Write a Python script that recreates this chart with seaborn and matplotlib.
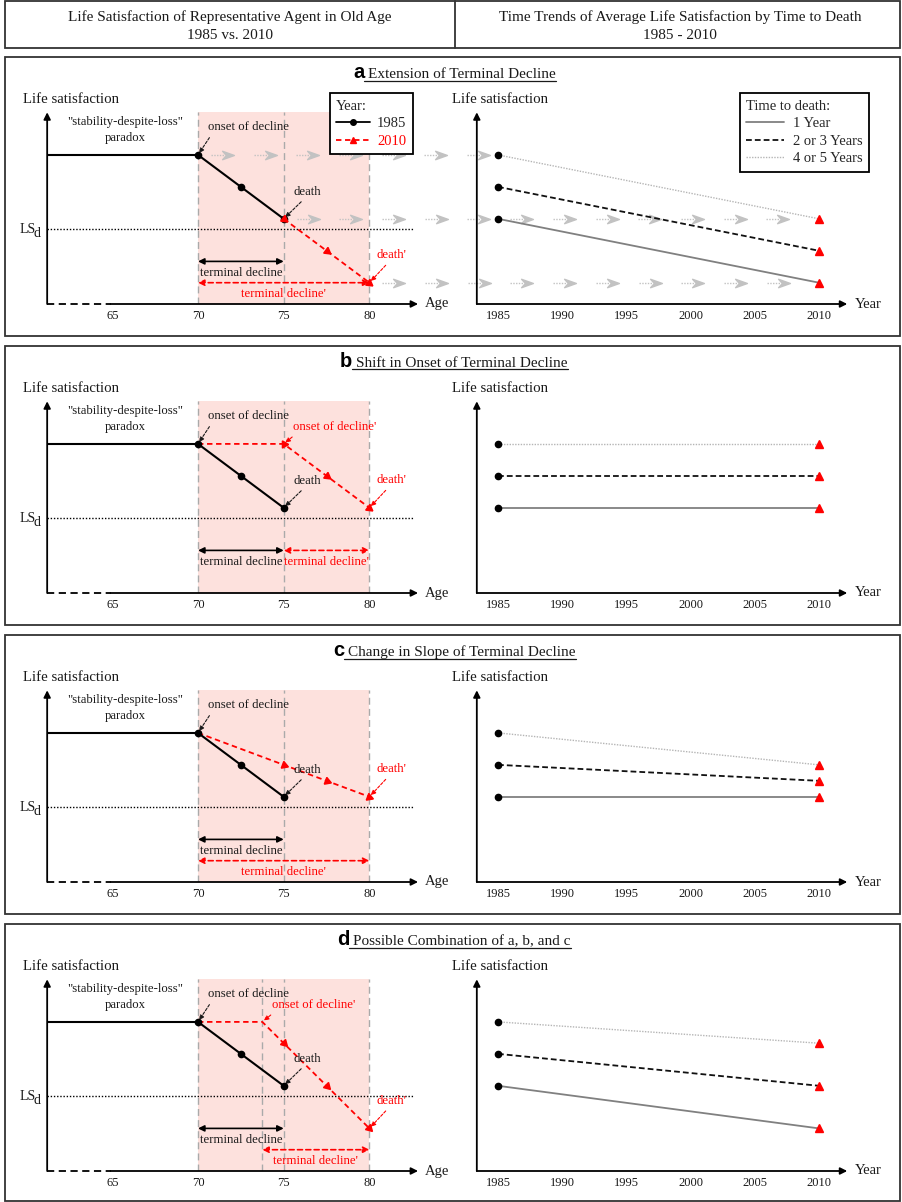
"""
Schematic: terminal decline of life satisfaction, 1985 vs. 2010.
"""
import math
import numpy as np
import pandas as pd
import matplotlib
matplotlib.use("Agg")
import matplotlib.pyplot as plt
from matplotlib.lines import Line2D
from matplotlib.patches import Rectangle
from matplotlib.path import Path
import seaborn as sns

# ---------------- data ----------------
HEADER_LEFT = "Life Satisfaction of Representative Agent in Old Age\n1985 vs. 2010"
HEADER_RIGHT = "Time Trends of Average Life Satisfaction by Time to Death\n1985 - 2010"

PANEL_LETTERS = ["a", "b", "c", "d"]
PANEL_TITLES = ["Extension of Terminal Decline",
                "Shift in Onset of Terminal Decline",
                "Change in Slope of Terminal Decline",
                "Possible Combination of a, b, and c"]

AGE_TICKS = [65, 70, 75, 80]
YEAR_TICKS = [1985, 1990, 1995, 2000, 2005, 2010]

# representative agent 1985 (same in every panel)
AGES_1985 = [70, 72.5, 75]
LS_1985 = [7.0, 5.5, 4.0]
LS_D = 3.5

# representative agent 2010, one path per panel
AGES_2010 = [[75, 77.5, 80],
             [70, 75, 77.5, 80],
             [70, 75, 77.5, 80],
             [70, 73.75, 75, 77.5, 80]]
LS_2010 = [[4.0, 2.5, 1.0],
           [7.0, 7.0, 5.5, 4.0],
           [7.0, 5.5, 4.75, 4.0],
           [7.0, 7.0, 6.0, 4.0, 2.0]]
ONSET_2010 = [70, 75, 70, 73.75]
DEATH_2010 = [80, 80, 80, 80]

# average life satisfaction by time to death
TTD_GROUPS = ["1 Year", "2 or 3 Years", "4 or 5 Years"]
TTD_LS_1985 = [4.0, 5.5, 7.0]
TTD_LS_2010 = [[1.0, 2.5, 4.0],
               [4.0, 5.5, 7.0],
               [4.0, 4.75, 5.5],
               [2.0, 4.0, 6.0]]

# ---------------- layout ----------------
W, H = 902, 1202
PANEL_TOP = [57, 346, 635, 924]
PANEL_BOTTOM = [336, 625, 914, 1201]
AXIS_OFFSET = 247
Y_PX = 21.3
AGE_PX, AGE_REF, AGE_REF_PX = 17.14, 70, 198
YEAR_PX, YEAR_REF, YEAR_REF_PX = 12.84, 1985, 498
AGE_LIM = (61.2, 83.5)
YEAR_LIM = (1983.35, 2013.5)
Y_LIM = (0, 9.5)
ARROW_TOP = 9.0

PINK = "#fde1dd"
RED = "#ff0000"
INK = "#1a1a1a"
GHOST = "#c2c2c2"
TTD_COLORS = {"1 Year": "#808080", "2 or 3 Years": "#111111", "4 or 5 Years": "#b5b5b5"}
TTD_DASHES = {"1 Year": "", "2 or 3 Years": (3.2, 1.7), "4 or 5 Years": (1, 1)}
TTD_LW = {"1 Year": 1.3, "2 or 3 Years": 1.3, "4 or 5 Years": 1.0}

sns.set_style("white")
plt.rcParams["font.family"] = ["Liberation Serif", "DejaVu Serif"]
plt.rcParams["axes.unicode_minus"] = False

fig = plt.figure(figsize=(W / 100, H / 100), dpi=100)
fig.patch.set_facecolor("white")

CHEVRON = Path([(-0.7, 0.5), (0.7, 0.0), (-0.7, -0.5), (-0.25, 0.0), (-0.7, 0.5)],
               [Path.MOVETO, Path.LINETO, Path.LINETO, Path.LINETO, Path.CLOSEPOLY])


def fx(px):
    return px / W


def fy(py):
    return 1 - py / H


def make_axes(xlim, px_per, ref, ref_px, axis_px, ticks):
    left = ref_px + (xlim[0] - ref) * px_per
    width = (xlim[1] - xlim[0]) * px_per
    height = (Y_LIM[1] - Y_LIM[0]) * Y_PX
    ax = fig.add_axes([fx(left), fy(axis_px), width / W, height / H])
    ax.set_xlim(xlim)
    ax.set_ylim(Y_LIM)
    ax.set_autoscale_on(False)
    ax.set_facecolor("none")
    for s in ax.spines.values():
        s.set_visible(False)
    ax.set_yticks([])
    ax.set_xticks(ticks)
    ax.set_xticklabels([str(t) for t in ticks])
    ax.tick_params(axis="x", length=0, pad=4, labelsize=9, labelcolor=INK)
    return ax


def axis_arrow(ax, xy, xytext, ls="-"):
    ax.annotate("", xy=xy, xytext=xytext, annotation_clip=False,
                arrowprops=dict(arrowstyle="-|>", color="k", lw=1.3, ls=ls,
                                shrinkA=0, shrinkB=0, mutation_scale=10))


def note(ax, text, xy, xytext, color, relpos, ha="left"):
    ax.annotate(text, xy=xy, xytext=xytext, color=color, fontsize=9.2,
                ha=ha, va="center", annotation_clip=False,
                arrowprops=dict(arrowstyle="-|>", color=color, lw=0.8,
                                ls=(0, (2.5, 1.5)), mutation_scale=7,
                                shrinkA=1, shrinkB=1.5, relpos=relpos))


def span_arrow(ax, x0, x1, y, color, ls="-"):
    ax.annotate("", xy=(x1, y), xytext=(x0, y), annotation_clip=False,
                arrowprops=dict(arrowstyle="<|-|>", color=color, lw=1.2, ls=ls,
                                shrinkA=0, shrinkB=0, mutation_scale=9))


def draw_left(i, ax):
    onset, death = ONSET_2010[i], DEATH_2010[i]
    start, end = AGES_1985[0], AGES_1985[-1]

    # terminal decline window
    ax.fill_between([start, death], 0, ARROW_TOP, color=PINK, lw=0, zorder=0)
    guides = sorted(set([start, end, death, onset]))
    ax.vlines(guides, 0, ARROW_TOP, colors="#aaaaaa", linestyles=(0, (5, 3)), lw=1, zorder=1)

    # axes
    axis_arrow(ax, (AGE_LIM[0], ARROW_TOP), (AGE_LIM[0], 0))
    ax.plot([AGE_LIM[0], 64.9], [0, 0], color="k", lw=1.3, ls=(0, (4, 2.5)), clip_on=False)
    axis_arrow(ax, (82.84, 0), (64.9, 0))
    ax.text(83.24, 0, "Age", fontsize=10.5, va="center", ha="left", color=INK)
    ax.text(59.8, 9.62, "Life satisfaction", fontsize=10.7, va="center", ha="left", color=INK)

    # LS_d threshold
    ax.hlines(LS_D, AGE_LIM[0], 82.55, colors="k", linestyles=(0, (1, 1.3)), lw=1, zorder=2)
    ax.text(60.55, LS_D + 0.02, "LS", fontsize=10, ha="right", va="center", color=INK)
    ax.text(60.43, LS_D - 0.2, "d", fontsize=10, ha="left", va="center", color=INK)

    ax.text(65.74, 8.17, '"stability-despite-loss"\nparadox', fontsize=9.2,
            ha="center", va="center", linespacing=1.4, color=INK)

    # 2010 path
    xs, ys = AGES_2010[i], LS_2010[i]
    sns.lineplot(x=xs, y=ys, color=RED, lw=1.3, linestyle=(0, (3, 2)),
                 sort=False, ax=ax, zorder=3)

    # 1985 path
    ax.plot([AGE_LIM[0], start], [LS_1985[0], LS_1985[0]], color="k", lw=1.5, zorder=3)
    sns.lineplot(x=AGES_1985, y=LS_1985, color="k", lw=1.5, sort=False, ax=ax, zorder=4)
    ax.plot(AGES_1985, LS_1985, ls="none", marker="o", ms=4.5, color="k", zorder=5)

    # 2010 markers, oriented along the path
    for j, (x, y) in enumerate(zip(xs, ys)):
        if x < end:
            continue
        k0, k1 = (j - 1, j) if j > 0 else (0, 1)
        ang = math.degrees(math.atan2((ys[k1] - ys[k0]) * Y_PX,
                                      (xs[k1] - xs[k0]) * AGE_PX)) - 90
        ax.plot([x], [y], ls="none", marker=(3, 0, ang), ms=6, color=RED, zorder=6)

    # notes
    note(ax, "onset of decline", (start, LS_1985[0]), (70.6, 8.3), INK, (0.05, 0))
    note(ax, "death", (end, LS_1985[-1]), (75.55, 5.28), INK, (0.45, 0))
    death_ls = ys[xs.index(death)]
    note(ax, "death'", (death, death_ls), (80.4, death_ls + 1.3), RED, (0.45, 0))
    if onset != start:
        note(ax, "onset of decline'", (onset, LS_1985[0]), (onset + 0.55, 7.8), RED, (0.05, 0))

    # terminal decline spans
    span_arrow(ax, start, end, 2.0, "k")
    ax.text((start + end) / 2, 1.47, "terminal decline", fontsize=9.2,
            ha="center", va="center", color=INK)
    if onset == end:
        span_arrow(ax, onset, death, 2.0, RED, ls=(0, (3, 2)))
        ax.text((onset + death) / 2, 1.47, "terminal decline'", fontsize=9.2,
                ha="center", va="center", color=RED)
    else:
        span_arrow(ax, onset, death, 1.0, RED, ls=(0, (3, 2)))
        ax.text((onset + death) / 2, 0.45, "terminal decline'", fontsize=9.2,
                ha="center", va="center", color=RED)


def draw_right(i, ax):
    axis_arrow(ax, (YEAR_LIM[0], ARROW_TOP), (YEAR_LIM[0], 0))
    axis_arrow(ax, (2012.2, 0), (YEAR_LIM[0], 0))
    ax.text(2012.8, 0, "Year", fontsize=10.5, va="center", ha="left", color=INK)
    ax.text(1981.4, 9.62, "Life satisfaction", fontsize=10.7, va="center", ha="left", color=INK)

    df = pd.DataFrame({
        "year": [1985] * 3 + [2010] * 3,
        "ls": TTD_LS_1985 + TTD_LS_2010[i],
        "group": TTD_GROUPS * 2,
    })
    for g in TTD_GROUPS:
        sub = df[df["group"] == g]
        sns.lineplot(data=sub, x="year", y="ls", color=TTD_COLORS[g], lw=TTD_LW[g],
                     dashes=False, ax=ax, legend=False, zorder=3,
                     linestyle="-" if TTD_DASHES[g] == "" else (0, TTD_DASHES[g]))
    ax.plot([1985] * 3, TTD_LS_1985, ls="none", marker="o", ms=4.5, color="k", zorder=5)
    ax.plot([2010] * 3, TTD_LS_2010[i], ls="none", marker="^", ms=6, color=RED, zorder=5)
    ax.set_xlabel("")
    ax.set_ylabel("")


def gray_row(ax_l, ax_r, start_age, ls, end_year, gap_px):
    x0 = ax_l.transData.transform((start_age, ls))[0] + 13
    x1 = ax_r.transData.transform((end_year, ls))[0] - gap_px
    inv = ax_l.transData.inverted()
    xs = x0
    while xs + 22 <= x1 + 0.5:
        a0 = inv.transform((xs, 0))[0]
        a1 = inv.transform((xs + 13, 0))[0]
        ac = inv.transform((xs + 17, 0))[0]
        ax_l.plot([a0, a1], [ls, ls], color=GHOST, lw=1, ls=(0, (1, 1)), clip_on=False, zorder=2)
        ax_l.plot([ac], [ls], ls="none", marker=CHEVRON, ms=8.5, color=GHOST,
                  clip_on=False, zorder=2)
        xs += 42.7


# ---------------- frames and headers ----------------
fig.add_artist(Rectangle((fx(5), fy(48)), 895 / W, 47 / H, transform=fig.transFigure,
                         fill=False, lw=1.3, ec="#333333"))
fig.add_artist(Line2D([fx(455), fx(455)], [fy(48), fy(1)], transform=fig.transFigure,
                      lw=1.3, color="#333333"))
fig.text(fx(230), fy(26), HEADER_LEFT, ha="center", va="center", fontsize=11,
         linespacing=1.55, color=INK)
fig.text(fx(680), fy(26), HEADER_RIGHT, ha="center", va="center", fontsize=11,
         linespacing=1.55, color=INK)

titles = []
for i in range(4):
    top, bottom = PANEL_TOP[i], PANEL_BOTTOM[i]
    fig.add_artist(Rectangle((fx(5), fy(bottom)), 895 / W, (bottom - top) / H,
                             transform=fig.transFigure, fill=False, lw=1.3, ec="#333333"))
    titles.append(fig.text(fx(462), fy(top + 21), PANEL_TITLES[i], ha="center",
                           va="baseline", fontsize=11, color=INK))

    axis_px = top + AXIS_OFFSET
    ax_l = make_axes(AGE_LIM, AGE_PX, AGE_REF, AGE_REF_PX, axis_px, AGE_TICKS)
    ax_r = make_axes(YEAR_LIM, YEAR_PX, YEAR_REF, YEAR_REF_PX, axis_px, YEAR_TICKS)
    draw_left(i, ax_l)
    draw_right(i, ax_r)
    for ax in (ax_l, ax_r):
        ax.set_xlabel("")
        ax.set_ylabel("")
        ax.set_xlim(AGE_LIM if ax is ax_l else YEAR_LIM)
        ax.set_ylim(Y_LIM)

    if i == 0:
        # projection of 1985 levels into the trend chart
        gray_row(ax_l, ax_r, AGES_1985[0], LS_1985[0], 1985, 6)
        gray_row(ax_l, ax_r, AGES_1985[-1], LS_1985[-1], 2010, 28)
        gray_row(ax_l, ax_r, DEATH_2010[0], LS_2010[0][-1], 2010, 28)

        year_handles = [
            Line2D([0], [0], color="k", lw=1.3, marker="o", ms=4),
            Line2D([0], [0], color=RED, lw=1.3, ls=(0, (3, 2)), marker="^", ms=5),
        ]
        leg = ax_l.legend(year_handles, ["1985", "2010"], title="Year:", loc="upper right",
                          bbox_to_anchor=(fx(413), fy(93)), bbox_transform=fig.transFigure,
                          borderaxespad=0, fontsize=10.5, title_fontsize=10.5,
                          alignment="left", fancybox=False, framealpha=1,
                          edgecolor="k", handlelength=2.3, handletextpad=0.5,
                          labelspacing=0.3, borderpad=0.45)
        leg.get_frame().set_linewidth(1.3)
        leg.get_texts()[1].set_color(RED)

        ttd_handles = [Line2D([0], [0], color=TTD_COLORS[g], lw=TTD_LW[g],
                              ls="-" if TTD_DASHES[g] == "" else (0, TTD_DASHES[g]))
                       for g in TTD_GROUPS]
        leg2 = ax_r.legend(ttd_handles, TTD_GROUPS, title="Time to death:", loc="upper right",
                           bbox_to_anchor=(fx(869), fy(93)), bbox_transform=fig.transFigure,
                           borderaxespad=0, fontsize=10.5, title_fontsize=10.5,
                           alignment="left", fancybox=False, framealpha=1,
                           edgecolor="k", handlelength=2.6, handletextpad=0.6,
                           labelspacing=0.3, borderpad=0.45)
        leg2.get_frame().set_linewidth(1.3)

# panel letters and underlines need the rendered title extents
fig.canvas.draw()
renderer = fig.canvas.get_renderer()
for i, t in enumerate(titles):
    bb = t.get_window_extent(renderer)
    base = H - (PANEL_TOP[i] + 21)
    fig.text((bb.x0 - 4) / W, base / H, PANEL_LETTERS[i], ha="right", va="baseline",
             fontsize=14.5, fontweight="bold", family="Liberation Sans", color="k")
    fig.add_artist(Line2D([(bb.x0 - 4) / W, bb.x1 / W], [(base - 2.5) / H] * 2,
                          transform=fig.transFigure, lw=0.9, color=INK))

fig.savefig("out.png", dpi=100)
